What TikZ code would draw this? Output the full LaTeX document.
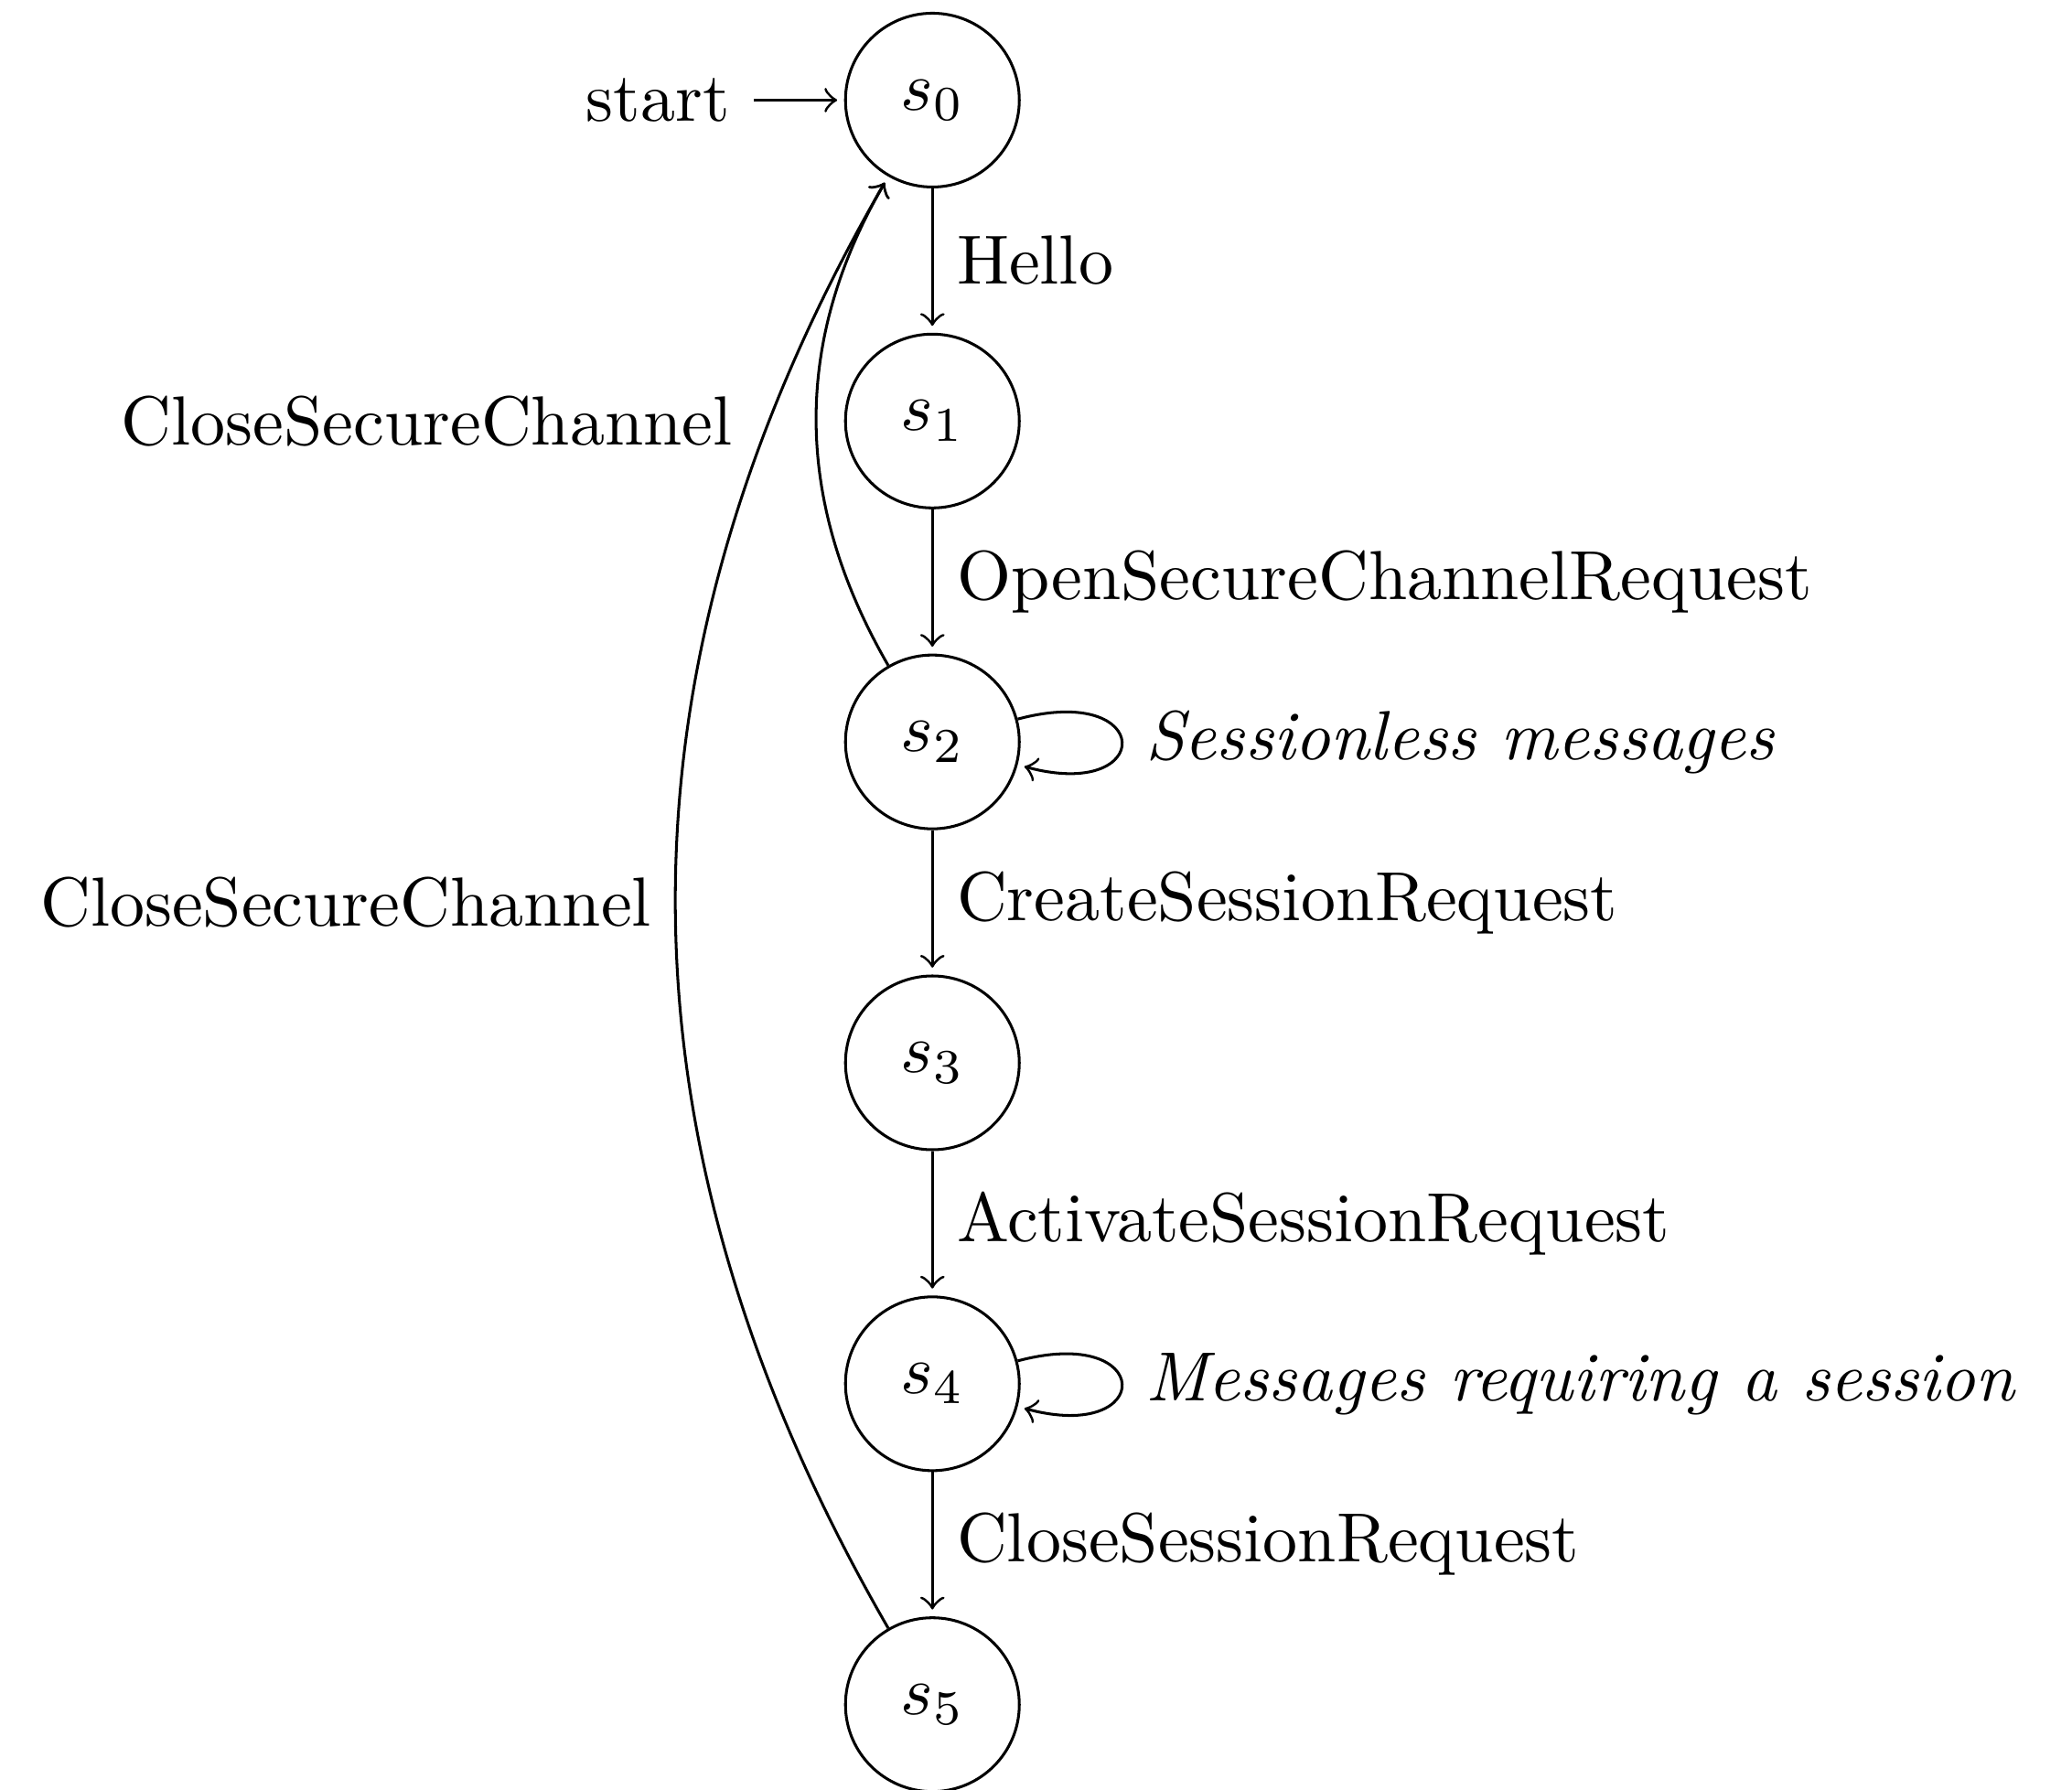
\documentclass[tikz,border=0pt]{standalone}
\usetikzlibrary{automata,positioning}
\begin{document}
\begin{tikzpicture}[
    >=to,
    auto,
    shorten >=1pt,
    node distance=46.16pt,
    every state/.style={draw, circle, minimum size=25pt, inner sep=0pt},
    initial text=start
  ]
  \useasboundingbox (-134.1pt,-243.0pt) rectangle (163.9pt,14.4pt);

  % states of the session protocol
  \node[state, initial] (s0) at (0,0) {$s_0$};
  \node[state, below=of s0.center, anchor=center] (s1) {$s_1$};
  \node[state, below=of s1.center, anchor=center] (s2) {$s_2$};
  \node[state, below=of s2.center, anchor=center] (s3) {$s_3$};
  \node[state, below=of s3.center, anchor=center] (s4) {$s_4$};
  \node[state, below=of s4.center, anchor=center] (s5) {$s_5$};

  % transitions
  \path[->]
    (s0) edge node {Hello} (s1)
    (s1) edge node {OpenSecureChannelRequest} (s2)
    (s2) edge[loop right] node {\textit{Sessionless messages}} ()
    (s2) edge node {CreateSessionRequest} (s3)
    (s3) edge node {ActivateSessionRequest} (s4)
    (s4) edge[loop right] node {\textit{Messages requiring a session}} ()
    (s4) edge node {CloseSessionRequest} (s5)
    (s2) edge[bend left] node[xshift=-8.6pt] {CloseSecureChannel} (s0)
    (s5) edge[bend left] node {CloseSecureChannel} (s0);
\end{tikzpicture}
\end{document}
